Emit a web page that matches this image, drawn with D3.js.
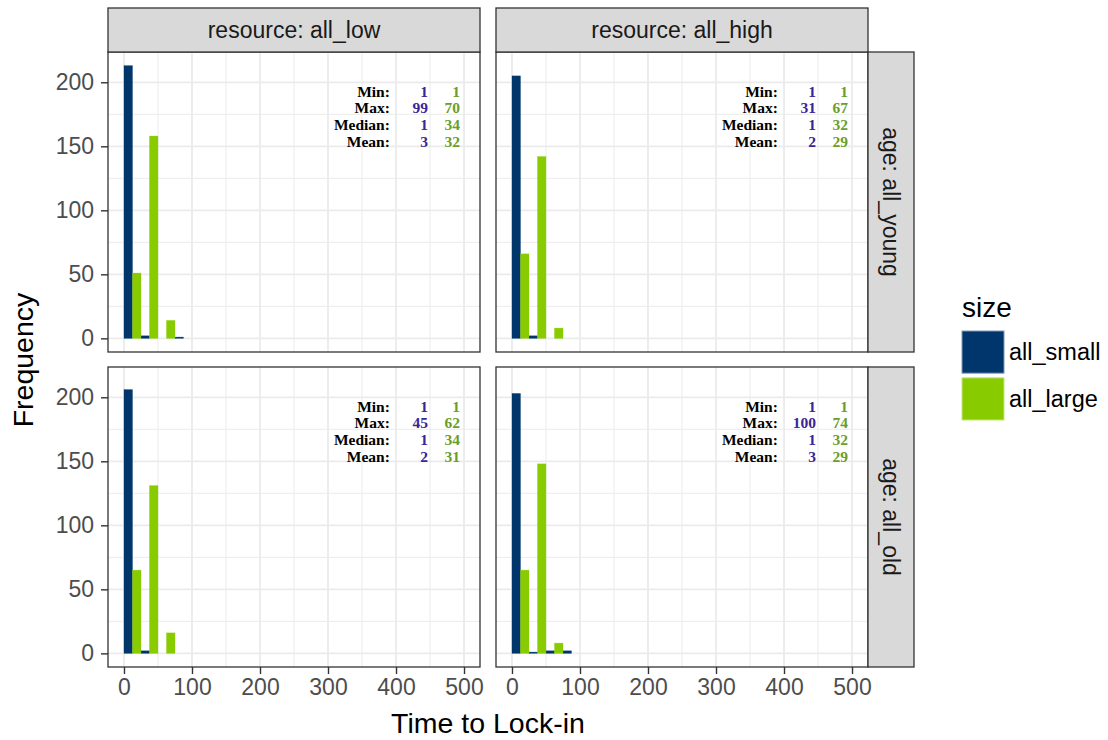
<!DOCTYPE html>
<html>
<head>
<meta charset="utf-8">
<script src="https://cdn.jsdelivr.net/npm/d3@7"></script>
<style>
  html, body { margin: 0; padding: 0; background: #fff; }
  svg { display: block; }
</style>
</head>
<body>
<svg id="chart" width="1108" height="740"></svg>
<script>
// ---------- data ----------
const binStarts = [0, 25, 50, 75];
const binWidth = 25;
const sizes = ["all_small", "all_large"];
const resources = ["all_low", "all_high"];
const ages = ["all_young", "all_old"];
const xTicks = [0, 100, 200, 300, 400, 500];
const yTicks = [0, 50, 100, 150, 200];
const statLabels = ["Min:", "Max:", "Median:", "Mean:"];

// counts per bin
const youngLowSmall  = [213, 2, 0, 1];
const youngLowLarge  = [51, 158, 14, 0];
const youngHighSmall = [205, 2, 0, 0];
const youngHighLarge = [66, 142, 8, 0];
const oldLowSmall    = [206, 2, 0, 0];
const oldLowLarge    = [65, 131, 16, 0];
const oldHighSmall   = [203, 1, 2, 2];
const oldHighLarge   = [65, 148, 8, 0];

// summary stats (Min, Max, Median, Mean)
const youngLowStatsSmall  = [1, 99, 1, 3];
const youngLowStatsLarge  = [1, 70, 34, 32];
const youngHighStatsSmall = [1, 31, 1, 2];
const youngHighStatsLarge = [1, 67, 32, 29];
const oldLowStatsSmall    = [1, 45, 1, 2];
const oldLowStatsLarge    = [1, 62, 34, 31];
const oldHighStatsSmall   = [1, 100, 1, 3];
const oldHighStatsLarge   = [1, 74, 32, 29];

const panels = [
  {age: "all_young", resource: "all_low",  small: youngLowSmall,  large: youngLowLarge,  sSmall: youngLowStatsSmall,  sLarge: youngLowStatsLarge},
  {age: "all_young", resource: "all_high", small: youngHighSmall, large: youngHighLarge, sSmall: youngHighStatsSmall, sLarge: youngHighStatsLarge},
  {age: "all_old",   resource: "all_low",  small: oldLowSmall,    large: oldLowLarge,    sSmall: oldLowStatsSmall,    sLarge: oldLowStatsLarge},
  {age: "all_old",   resource: "all_high", small: oldHighSmall,   large: oldHighLarge,   sSmall: oldHighStatsSmall,   sLarge: oldHighStatsLarge}
];

// ---------- layout ----------
const colX = {all_low: [108, 480], all_high: [496, 868]};
const rowY = {all_young: [52, 352], all_old: [367, 667]};
const fillColor = {all_small: "#00366B", all_large: "#88CC00"};
const statColor = {all_small: "#3A2597", all_large: "#6A9E2A"};
const xDomain = [-23.5, 523.5];
const yDomain = [-10.65, 223.65];
const sans = "'Liberation Sans', Arial, Helvetica, sans-serif";
const serif = "'Liberation Serif', 'Times New Roman', serif";

const svg = d3.select("#chart");
svg.append("rect").attr("width", 1108).attr("height", 740).attr("fill", "#fff");

panels.forEach(p => {
  const [x0, x1] = colX[p.resource];
  const [y0, y1] = rowY[p.age];
  const x = d3.scaleLinear().domain(xDomain).range([x0, x1]);
  const y = d3.scaleLinear().domain(yDomain).range([y1, y0]);
  const g = svg.append("g");

  g.append("rect").attr("x", x0).attr("y", y0).attr("width", x1 - x0).attr("height", y1 - y0).attr("fill", "#fff");

  const xMinor = [50, 150, 250, 350, 450];
  const yMinor = [25, 75, 125, 175];
  g.selectAll(".xminor").data(xMinor).enter().append("line")
    .attr("x1", d => x(d)).attr("x2", d => x(d)).attr("y1", y0).attr("y2", y1)
    .attr("stroke", "#EBEBEB").attr("stroke-width", 1.0);
  g.selectAll(".yminor").data(yMinor).enter().append("line")
    .attr("y1", d => y(d)).attr("y2", d => y(d)).attr("x1", x0).attr("x2", x1)
    .attr("stroke", "#EBEBEB").attr("stroke-width", 1.0);
  g.selectAll(".xmajor").data(xTicks).enter().append("line")
    .attr("x1", d => x(d)).attr("x2", d => x(d)).attr("y1", y0).attr("y2", y1)
    .attr("stroke", "#EBEBEB").attr("stroke-width", 1.8);
  g.selectAll(".ymajor").data(yTicks).enter().append("line")
    .attr("y1", d => y(d)).attr("y2", d => y(d)).attr("x1", x0).attr("x2", x1)
    .attr("stroke", "#EBEBEB").attr("stroke-width", 1.8);

  sizes.forEach((s, si) => {
    const vals = s === "all_small" ? p.small : p.large;
    g.selectAll(".bar-" + s).data(binStarts.map((b, i) => ({b, v: vals[i]})).filter(d => d.v > 0))
      .enter().append("rect")
      .attr("x", d => x(d.b + si * binWidth / 2))
      .attr("width", d => x(d.b + (si + 1) * binWidth / 2) - x(d.b + si * binWidth / 2))
      .attr("y", d => y(d.v))
      .attr("height", d => y(0) - y(d.v))
      .attr("fill", fillColor[s])
      .attr("stroke", fillColor[s]).attr("stroke-opacity", 0.5).attr("stroke-width", 0.6);
  });

  const rowsY = [193, 180, 167, 154];
  const tableFont = 15.5;
  g.selectAll(".slab").data(statLabels).enter().append("text")
    .attr("x", x(391)).attr("y", (d, i) => y(rowsY[i]))
    .attr("dy", "0.35em").attr("text-anchor", "end")
    .attr("font-family", serif).attr("font-weight", "bold").attr("font-size", tableFont)
    .attr("fill", "#000").text(d => d);
  g.selectAll(".ssmall").data(p.sSmall).enter().append("text")
    .attr("x", x(447)).attr("y", (d, i) => y(rowsY[i]))
    .attr("dy", "0.35em").attr("text-anchor", "end")
    .attr("font-family", serif).attr("font-weight", "bold").attr("font-size", tableFont)
    .attr("fill", statColor.all_small).text(d => d);
  g.selectAll(".slarge").data(p.sLarge).enter().append("text")
    .attr("x", x(494)).attr("y", (d, i) => y(rowsY[i]))
    .attr("dy", "0.35em").attr("text-anchor", "end")
    .attr("font-family", serif).attr("font-weight", "bold").attr("font-size", tableFont)
    .attr("fill", statColor.all_large).text(d => d);

  g.append("rect").attr("x", x0).attr("y", y0).attr("width", x1 - x0).attr("height", y1 - y0)
    .attr("fill", "none").attr("stroke", "#333333").attr("stroke-width", 1.3);

  if (p.resource === "all_low") {
    const ax = g.append("g").attr("transform", `translate(${x0},0)`)
      .call(d3.axisLeft(y).tickValues(yTicks).tickSize(7).tickPadding(7));
    ax.select(".domain").remove();
    ax.selectAll("line").attr("stroke", "#333333").attr("stroke-width", 1.4);
    ax.selectAll("text").attr("font-family", sans).attr("font-size", 23).attr("fill", "#4D4D4D");
  }
  if (p.age === "all_old") {
    const ax = g.append("g").attr("transform", `translate(0,${y1})`)
      .call(d3.axisBottom(x).tickValues(xTicks).tickSize(7).tickPadding(5));
    ax.select(".domain").remove();
    ax.selectAll("line").attr("stroke", "#333333").attr("stroke-width", 1.4);
    ax.selectAll("text").attr("font-family", sans).attr("font-size", 23).attr("fill", "#4D4D4D");
  }
});

// top strips
resources.forEach(r => {
  const [x0, x1] = colX[r];
  svg.append("rect").attr("x", x0).attr("y", 8).attr("width", x1 - x0).attr("height", 44)
    .attr("fill", "#D9D9D9").attr("stroke", "#333333").attr("stroke-width", 1.3);
  svg.append("text").attr("x", (x0 + x1) / 2).attr("y", 30).attr("dy", "0.35em")
    .attr("text-anchor", "middle").attr("font-family", sans).attr("font-size", 23)
    .attr("fill", "#1A1A1A").text("resource: " + r);
});
// right strips
ages.forEach(a => {
  const [y0, y1] = rowY[a];
  svg.append("rect").attr("x", 868).attr("y", y0).attr("width", 46).attr("height", y1 - y0)
    .attr("fill", "#D9D9D9").attr("stroke", "#333333").attr("stroke-width", 1.3);
  svg.append("text").attr("transform", `translate(891,${(y0 + y1) / 2}) rotate(90)`)
    .attr("dy", "0.35em").attr("text-anchor", "middle").attr("font-family", sans)
    .attr("font-size", 23).attr("fill", "#1A1A1A").text("age: " + a);
});

// axis titles
svg.append("text").attr("x", 488).attr("y", 733).attr("text-anchor", "middle")
  .attr("font-family", sans).attr("font-size", 28.5).attr("fill", "#000").text("Time to Lock-in");
svg.append("text").attr("transform", "translate(33,360) rotate(-90)").attr("text-anchor", "middle")
  .attr("font-family", sans).attr("font-size", 28.5).attr("fill", "#000").text("Frequency");

// legend
svg.append("text").attr("x", 962).attr("y", 317).attr("font-family", sans).attr("font-size", 28)
  .attr("fill", "#000").text("size");
const legY = d3.scaleBand().domain(sizes).range([331, 420]).paddingInner(0.1);
sizes.forEach(s => {
  svg.append("rect").attr("x", 962).attr("y", legY(s)).attr("width", 42).attr("height", legY.bandwidth())
    .attr("fill", fillColor[s]).attr("stroke", s === "all_small" ? "#7F9AB5" : "#C3E57F").attr("stroke-width", 1);
  svg.append("text").attr("x", 1009).attr("y", legY(s) + legY.bandwidth() / 2).attr("dy", "0.35em")
    .attr("font-family", sans).attr("font-size", 23.5).attr("fill", "#000").text(s);
});
</script>
</body>
</html>
